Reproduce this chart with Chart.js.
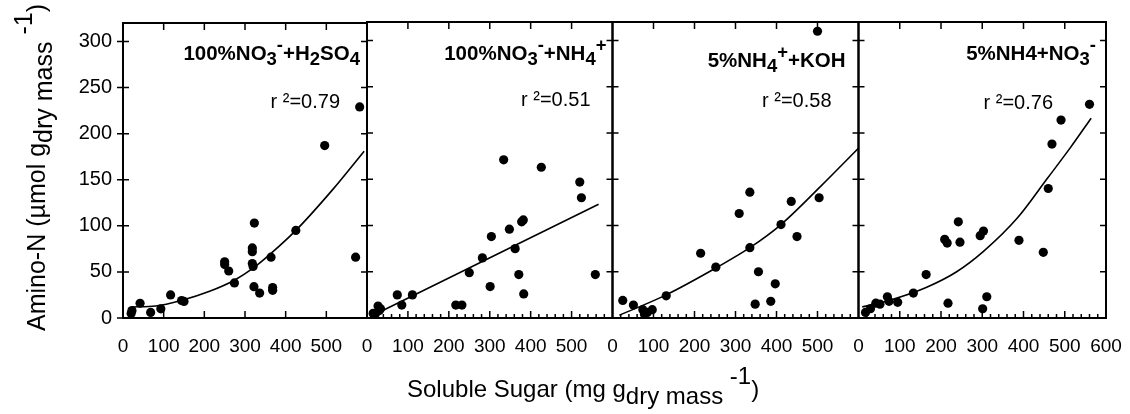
<!DOCTYPE html>
<html>
<head>
<meta charset="utf-8">
<script src="https://cdn.jsdelivr.net/npm/chart.js@4.4.1/dist/chart.umd.min.js"></script>
<style>
  body { margin: 0; background: #fff; }
  #wrap { position: relative; width: 1130px; height: 414px; }
  #wrap canvas { position: absolute; left: 0; top: 0; }
</style>
</head>
<body>
<div id="wrap">
  <canvas id="c1" width="1130" height="414"></canvas>
  <canvas id="c2" width="1130" height="414"></canvas>
  <canvas id="c3" width="1130" height="414"></canvas>
  <canvas id="c4" width="1130" height="414"></canvas>
</div>
<script>
// axis ticks
const xTicks = [0, 100, 200, 300, 400, 500, 600];
const xMinor = [20, 40, 60, 80, 120, 140, 160, 180, 220, 240, 260, 280, 320, 340, 360, 380, 420, 440, 460, 480, 520, 540, 560, 580];
const yTicks = [0, 50, 100, 150, 200, 250, 300];

// 100%NO3- + H2SO4
const sugar1 = [20, 22, 42, 68, 93, 117, 144, 150, 250, 250, 260, 274, 318, 318, 318, 320, 323, 322, 336, 364, 368, 368, 425, 496, 572, 582];
const amino1 = [5, 8, 16, 6, 10, 25, 19, 18, 61, 58, 51, 38, 76, 72, 59, 56, 103, 34, 27, 66, 33, 30, 95, 187, 66, 229];
const fitX1 = [21, 80, 143, 213, 274, 320, 364, 425, 515, 593];
const fitY1 = [12, 13, 19, 29, 41, 54, 70, 95, 139, 181];

// 100%NO3- + NH4+
const sugar2 = [15, 20, 27, 30, 33, 74, 85, 111, 217, 232, 250, 282, 301, 304, 334, 348, 362, 371, 378, 382, 383, 426, 520, 524, 558];
const amino2 = [5, 4, 13, 8, 10, 25, 14, 25, 14, 14, 49, 65, 34, 88, 171, 96, 75, 47, 104, 106, 26, 163, 147, 130, 47];
const fitX2 = [15, 566];
const fitY2 = [3, 123];

// 5%NH4+ + KOH
const sugar3 = [25, 51, 74, 78, 85, 97, 131, 215, 252, 309, 335, 335, 356, 348, 386, 397, 411, 436, 450, 504, 500];
const amino3 = [19, 14, 9, 4, 6, 9, 24, 70, 55, 113, 136, 76, 50, 15, 18, 37, 101, 126, 88, 130, 310];
const fitX3 = [17, 131, 252, 335, 411, 507, 601];
const fitY3 = [3, 25, 54, 76, 101, 142, 184];

// 5%NH4 + NO3-
const sugar4 = [17, 29, 42, 52, 70, 74, 95, 133, 164, 209, 215, 217, 242, 246, 295, 303, 301, 311, 389, 448, 460, 469, 491, 560];
const amino4 = [6, 10, 16, 15, 23, 18, 17, 27, 47, 85, 81, 16, 104, 82, 89, 94, 10, 23, 84, 71, 140, 188, 214, 231];
const fitX4 = [9, 74, 164, 238, 303, 385, 458, 515, 564];
const fitY4 = [12, 19, 33, 50, 72, 108, 151, 185, 216];

const panelTitles = [
  [['100%NO'], ['3', 'sub'], ['-', 'sup'], ['+H'], ['2', 'sub'], ['SO'], ['4', 'sub']],
  [['100%NO'], ['3', 'sub'], ['-', 'sup'], ['+NH'], ['4', 'sub'], ['+', 'sup']],
  [['5%NH'], ['4', 'sub'], ['+', 'sup'], ['+KOH']],
  [['5%NH4+NO'], ['3', 'sub'], ['-', 'sup']]
];
const rSquared = ['r \u00b2=0.79', 'r \u00b2=0.51', 'r \u00b2=0.58', 'r \u00b2=0.76'];
const yTitle = [['Amino-N (\u00b5mol g'], ['dry mass ', 'sub'], ['-1', 'sup'], [')']];
const xTitle = [['Soluble Sugar (mg g'], ['dry mass ', 'sub'], ['-1', 'sup'], [')']];

const FONT = "'Liberation Sans', Arial, sans-serif";

// draw text pieces with sub/superscripts
function drawRich(ctx, segs, x, y, o) {
  const size = o.size, small = o.small || size;
  const w = segs.map(s => {
    ctx.font = (o.bold ? 'bold ' : '') + (s[1] ? small : size) + 'px ' + FONT;
    return ctx.measureText(s[0]).width;
  });
  let cx = o.align === 'right' ? x - w.reduce((a, b) => a + b, 0) : x;
  ctx.textAlign = 'left';
  ctx.textBaseline = 'alphabetic';
  segs.forEach((s, i) => {
    ctx.font = (o.bold ? 'bold ' : '') + (s[1] ? small : size) + 'px ' + FONT;
    const dy = s[1] === 'sub' ? o.sub : s[1] === 'sup' ? -o.sup : 0;
    ctx.fillText(s[0], cx, y + dy);
    cx += w[i];
  });
}

const framePlugin = {
  id: 'frame',
  afterDraw(chart, args, o) {
    const { ctx, chartArea: a, scales: { x, y } } = chart;
    ctx.save();
    ctx.strokeStyle = '#000';
    ctx.fillStyle = '#000';
    ctx.lineWidth = 1.5;
    ctx.beginPath();
    xTicks.forEach(v => {
      if (v === 0 || v === 600) return;
      const px = x.getPixelForValue(v);
      ctx.moveTo(px, a.bottom); ctx.lineTo(px, a.bottom - 7);
      ctx.moveTo(px, a.top); ctx.lineTo(px, a.top + 7);
    });
    if (o.minor) {
      xMinor.forEach(v => {
        const px = x.getPixelForValue(v);
        ctx.moveTo(px, a.bottom); ctx.lineTo(px, a.bottom - 4);
      });
    }
    yTicks.forEach(v => {
      const py = y.getPixelForValue(v);
      ctx.moveTo(a.left - (o.outer ? 6 : 0), py); ctx.lineTo(a.left + 6, py);
      ctx.moveTo(a.right, py); ctx.lineTo(a.right - 6, py);
    });
    ctx.stroke();
    ctx.lineWidth = 2;
    ctx.strokeRect(a.left, a.top, a.right - a.left, a.bottom - a.top);

    drawRich(ctx, panelTitles[o.idx], a.right - o.titleInset, a.top + o.titleY,
      { size: 20.5, small: 18.5, bold: true, align: 'right', sub: 5, sup: 9 });
    ctx.font = '20px ' + FONT;
    ctx.textAlign = 'right';
    ctx.fillText(rSquared[o.idx], a.right - o.rInset, a.top + o.rY);

    if (o.idx === 0) {
      ctx.save();
      ctx.translate(45, 331);
      ctx.rotate(-Math.PI / 2);
      drawRich(ctx, yTitle, 0, 0, { size: 25, sub: 7, sup: 13 });
      ctx.restore();
      drawRich(ctx, xTitle, 407, 397, { size: 24, sub: 7, sup: 13 });
    }
    ctx.restore();
  }
};

const panels = [
  { sx: sugar1, sy: amino1, fx: fitX1, fy: fitY1, left: 123, right: 367, minor: false, outer: true, titleInset: 7, titleY: 37, rInset: 27, rY: 85 },
  { sx: sugar2, sy: amino2, fx: fitX2, fy: fitY2, left: 367, right: 612.5, minor: true, outer: false, titleInset: 6, titleY: 38, rInset: 22, rY: 84 },
  { sx: sugar3, sy: amino3, fx: fitX3, fy: fitY3, left: 612.5, right: 858.5, minor: true, outer: false, titleInset: 13, titleY: 45, rInset: 27, rY: 85 },
  { sx: sugar4, sy: amino4, fx: fitX4, fy: fitY4, left: 858.5, right: 1106, minor: true, outer: false, titleInset: 10, titleY: 38, rInset: 53, rY: 87 }
];

panels.forEach((p, i) => {
  const first = i === 0, last = i === panels.length - 1;
  new Chart(document.getElementById('c' + (i + 1)), {
    type: 'scatter',
    data: {
      datasets: [
        {
          data: p.sx.map((v, k) => ({ x: v, y: p.sy[k] })),
          pointRadius: 4.6,
          pointBackgroundColor: '#000',
          pointBorderWidth: 0
        },
        {
          data: p.fx.map((v, k) => ({ x: v, y: p.fy[k] })),
          showLine: true,
          pointRadius: 0,
          borderColor: '#000',
          borderWidth: 1.6,
          cubicInterpolationMode: 'monotone'
        }
      ]
    },
    options: {
      responsive: false,
      animation: false,
      events: [],
      layout: { padding: { left: first ? 0 : p.left, right: 1130 - p.right, top: 22, bottom: 0 } },
      plugins: {
        legend: { display: false },
        tooltip: { enabled: false },
        frame: { idx: i, minor: p.minor, outer: p.outer, titleInset: p.titleInset, titleY: p.titleY, rInset: p.rInset, rY: p.rY }
      },
      scales: {
        x: {
          type: 'linear', min: 0, max: 600,
          afterFit: s => { s.height = 96; s.paddingLeft = 0; s.paddingRight = 0; },
          grid: { display: false, drawTicks: false },
          border: { display: false },
          ticks: {
            stepSize: 100, padding: 17, color: '#000', maxRotation: 0, autoSkip: false,
            font: { family: FONT, size: 19 },
            callback: v => (v === 600 && !last) ? '' : v
          }
        },
        y: {
          type: 'linear', min: 0, max: 320, display: first,
          afterFit: s => { s.width = first ? 123 : 0; },
          grid: { display: false, drawTicks: false },
          border: { display: false },
          ticks: {
            stepSize: 50, includeBounds: false, padding: 11, color: '#000',
            font: { family: FONT, size: 20 }
          }
        }
      }
    },
    plugins: [framePlugin]
  });
});
</script>
</body>
</html>
